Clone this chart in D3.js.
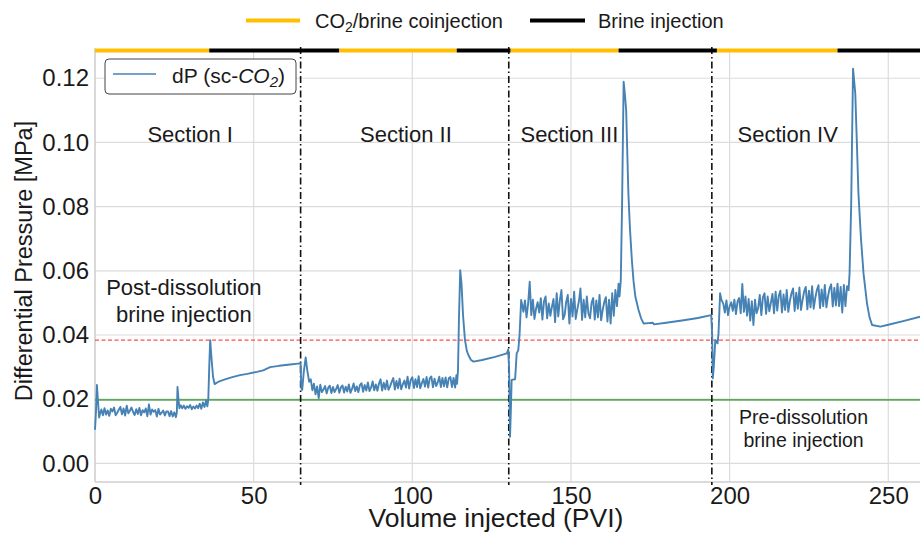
<!DOCTYPE html>
<html>
<head>
<meta charset="utf-8">
<script src="https://cdn.jsdelivr.net/npm/d3@7"></script>
<style>
  body { margin: 0; background: #fff; }
  svg text { font-family: "Liberation Sans", Arial, Helvetica, sans-serif; fill: #1a1a1a; }
</style>
</head>
<body>
<svg id="chart" width="922" height="533"></svg>
<script>
// ---- data ----
var xTicks = [0, 50, 100, 150, 200, 250];
var yTicks = [0, 0.02, 0.04, 0.06, 0.08, 0.10, 0.12];

var sectionBounds = [64.8, 130.4, 194.4];
var sectionNames = ["Section I", "Section II", "Section III", "Section IV"];
var sectionCentres = [30, 98, 149.5, 218.3];

// injection schedule bar along the top
var phaseStart = [0, 36, 77, 114, 131, 165, 196, 234];
var phaseEnd   = [36, 77, 114, 131, 165, 196, 234, 260];
var phaseType  = ["co2", "brine", "co2", "brine", "co2", "brine", "co2", "brine"];

var preDissolution = 0.0198;   // green reference
var postDissolution = 0.0384;  // red dashed reference

// dP trace [PVI, MPa]
var section1 = [
  [0, 0.0105], [0.3, 0.016], [0.6, 0.0244], [0.9, 0.020], [1.3, 0.0143], [1.6, 0.0155],
  [2, 0.0168], [2.5, 0.0150], [3, 0.0172], [3.5, 0.0152], [4, 0.0165], [4.5, 0.0148],
  [5, 0.0170], [5.5, 0.0162], [6, 0.0174], [6.5, 0.0150], [7, 0.0158], [7.5, 0.0167],
  [8, 0.0176], [8.5, 0.0153], [9, 0.0171], [9.5, 0.0149], [10, 0.0180], [10.5, 0.0156],
  [11, 0.0164], [11.5, 0.0174], [12, 0.0160], [12.5, 0.0151], [13, 0.0169], [13.5, 0.0154],
  [14, 0.0173], [14.5, 0.0150], [15, 0.0166], [15.5, 0.0159], [16, 0.0171], [16.5, 0.0147],
  [17, 0.0184], [17.5, 0.0152], [18, 0.0168], [18.5, 0.0161], [19, 0.0166], [19.5, 0.0146],
  [20, 0.0170], [20.5, 0.0152], [21, 0.0158], [21.5, 0.0165], [22, 0.0149], [22.5, 0.0162],
  [23, 0.0162], [23.5, 0.0147], [24, 0.0163], [24.5, 0.0146], [25, 0.0159], [25.5, 0.0144],
  [25.8, 0.0160], [26.0, 0.0238], [26.3, 0.0200], [26.6, 0.0172],
  [27, 0.0181], [27.5, 0.0172], [28, 0.0180], [28.5, 0.0170], [29, 0.0178], [29.5, 0.0173],
  [30, 0.0182], [30.5, 0.0169], [31, 0.0177], [31.5, 0.0171], [32, 0.0180], [32.5, 0.0172],
  [33, 0.0186], [33.5, 0.0170], [34, 0.0190], [34.5, 0.0176], [35, 0.0196], [35.4, 0.0178],
  [35.7, 0.0198], [36.0, 0.0300], [36.3, 0.0384], [36.7, 0.0330], [37.2, 0.0270], [37.7, 0.0247],
  [39, 0.0255], [40.5, 0.0260], [43, 0.0268], [45.7, 0.0275], [48, 0.0279], [51, 0.0285],
  [53, 0.0290], [55.2, 0.0300], [58, 0.0304], [61.5, 0.0308], [64, 0.0311], [64.8, 0.0312]
];
var section2 = [
  [65.0, 0.0235], [65.3, 0.0229], [65.8, 0.0285], [66.4, 0.0330], [66.9, 0.0290], [67.5, 0.0254],
  [68, 0.0262], [68.5, 0.0228], [69, 0.0248], [69.5, 0.0215], [70, 0.0240], [70.5, 0.0203],
  [71, 0.0245], [71.5, 0.0222], [72, 0.0230], [72.5, 0.0241], [73, 0.0218], [73.5, 0.0236],
  [74, 0.0242], [74.5, 0.0219], [75, 0.0238], [75.5, 0.0222], [76, 0.0232], [76.5, 0.0244],
  [77, 0.0220], [77.5, 0.0237], [78, 0.0243], [78.5, 0.0221], [79, 0.0239], [79.5, 0.0224],
  [80, 0.0246], [80.5, 0.0220], [81, 0.0232], [81.5, 0.0249], [82, 0.0225], [82.5, 0.0240],
  [83, 0.0222], [83.5, 0.0244], [84, 0.0250], [84.5, 0.0223], [85, 0.0244], [85.5, 0.0227],
  [86, 0.0252], [86.5, 0.0225], [87, 0.0236], [87.5, 0.0255], [88, 0.0228], [88.5, 0.0246],
  [89, 0.0226], [89.5, 0.0249], [90, 0.0262], [90.5, 0.0227], [91, 0.0251], [91.5, 0.0231],
  [92, 0.0258], [92.5, 0.0229], [93, 0.0240], [93.5, 0.0254], [94, 0.0266], [94.5, 0.0230],
  [95, 0.0257], [95.5, 0.0234], [96, 0.0264], [96.5, 0.0231], [97, 0.0246], [97.5, 0.0258],
  [98, 0.0236], [98.5, 0.0270], [99, 0.0233], [99.5, 0.0260], [100, 0.0268], [100.5, 0.0235],
  [101, 0.0262], [101.5, 0.0238], [102, 0.0272], [102.5, 0.0234], [103, 0.0250], [103.5, 0.0263],
  [104, 0.0239], [104.5, 0.0269], [105, 0.0236], [105.5, 0.0265], [106, 0.0271], [106.5, 0.0237],
  [107, 0.0264], [107.5, 0.0241], [108, 0.0252], [108.5, 0.0270], [109, 0.0238], [109.5, 0.0266],
  [110, 0.0240], [110.5, 0.0268], [111, 0.0237], [111.5, 0.0265], [112, 0.0269], [112.5, 0.0238],
  [113, 0.0266], [113.5, 0.0236], [113.9, 0.0275], [114.1, 0.0248], [114.4, 0.0290], [114.7, 0.0450],
  [115.1, 0.0602], [115.5, 0.0560], [116.0, 0.0460], [116.6, 0.0384], [117.2, 0.0350], [117.7, 0.0337],
  [118.5, 0.0322], [119.3, 0.0317], [122, 0.0322], [126.1, 0.0332], [129.8, 0.0343], [130.2, 0.0355]
];
var section3 = [
  [130.5, 0.0300], [130.8, 0.0083], [131.1, 0.0180], [131.3, 0.0260], [132.4, 0.0262], [132.9, 0.0343],
  [133.4, 0.0353], [133.8, 0.0400], [134.3, 0.0509], [134.7, 0.0490],
  [135, 0.0472], [135.5, 0.0508], [136, 0.0455], [136.5, 0.0498], [137, 0.0566], [137.5, 0.0462],
  [138, 0.0510], [138.5, 0.0450], [139, 0.0482], [139.5, 0.0502], [140, 0.0470], [140.5, 0.0515],
  [141, 0.0448], [141.5, 0.0505], [142, 0.0520], [142.5, 0.0452], [143, 0.0498], [143.5, 0.0460],
  [144, 0.0488], [144.5, 0.0512], [145, 0.0440], [145.5, 0.0530], [146, 0.0458], [146.5, 0.0508],
  [147, 0.0540], [147.5, 0.0449], [148, 0.0462], [148.5, 0.0503], [149, 0.0525], [149.5, 0.0436],
  [150, 0.0512], [150.5, 0.0458], [151, 0.0535], [151.5, 0.0450], [152, 0.0480], [152.5, 0.0505],
  [153, 0.0545], [153.5, 0.0447], [154, 0.0510], [154.5, 0.0455], [155, 0.0520], [155.5, 0.0468],
  [156, 0.0452], [156.5, 0.0500], [157, 0.0515], [157.5, 0.0448], [158, 0.0508], [158.5, 0.0455],
  [159, 0.0525], [159.5, 0.0446], [160, 0.0478], [160.5, 0.0503], [161, 0.0518], [161.5, 0.0442],
  [162, 0.0510], [162.5, 0.0436], [163, 0.0530], [163.5, 0.0460], [164, 0.0540], [164.5, 0.0490],
  [165.0, 0.0560], [165.3, 0.0520], [165.7, 0.0570], [166.1, 0.0800], [166.6, 0.1189], [167.0, 0.1150],
  [167.4, 0.1100], [167.8, 0.0950], [168.1, 0.0841], [168.6, 0.0730], [169.2, 0.0633], [169.7, 0.0570],
  [170.3, 0.0519], [171.3, 0.0478], [172.1, 0.0452], [172.9, 0.0436], [174.5, 0.0437], [175.8, 0.0438],
  [176.2, 0.0433], [180, 0.0438], [185, 0.0445], [190, 0.0453], [194.2, 0.0462]
];
var section4 = [
  [194.5, 0.0400], [194.7, 0.0265], [195.0, 0.0300], [195.5, 0.0384], [196.2, 0.0374], [196.5, 0.0405],
  [197.0, 0.0530], [197.4, 0.0510],
  [198, 0.0498], [198.5, 0.0470], [199, 0.0508], [199.5, 0.0462], [200, 0.0490], [200.5, 0.0502],
  [201, 0.0475], [201.5, 0.0510], [202, 0.0465], [202.5, 0.0505], [203, 0.0515], [203.5, 0.0468],
  [204, 0.0559], [204.5, 0.0472], [205, 0.0520], [205.5, 0.0460], [206, 0.0512], [206.5, 0.0445],
  [207, 0.0505], [207.5, 0.0431], [208, 0.0510], [208.5, 0.0468], [209, 0.0484], [209.5, 0.0525],
  [210, 0.0462], [210.5, 0.0518], [211, 0.0530], [211.5, 0.0466], [212, 0.0520], [212.5, 0.0474],
  [213, 0.0500], [213.5, 0.0528], [214, 0.0468], [214.5, 0.0535], [215, 0.0476], [215.5, 0.0522],
  [216, 0.0538], [216.5, 0.0470], [217, 0.0526], [217.5, 0.0478], [218, 0.0540], [218.5, 0.0472],
  [219, 0.0506], [219.5, 0.0530], [220, 0.0545], [220.5, 0.0475], [221, 0.0532], [221.5, 0.0482],
  [222, 0.0548], [222.5, 0.0478], [223, 0.0510], [223.5, 0.0536], [224, 0.0550], [224.5, 0.0480],
  [225, 0.0538], [225.5, 0.0486], [226, 0.0552], [226.5, 0.0482], [227, 0.0516], [227.5, 0.0540],
  [228, 0.0555], [228.5, 0.0484], [229, 0.0542], [229.5, 0.0490], [230, 0.0556], [230.5, 0.0486],
  [231, 0.0520], [231.5, 0.0545], [232, 0.0558], [232.5, 0.0489], [233, 0.0547], [233.5, 0.0492],
  [234, 0.0560], [234.5, 0.0490], [235, 0.0550], [235.5, 0.0470], [236, 0.0556], [236.5, 0.0490],
  [237, 0.0552], [237.5, 0.0540], [237.8, 0.0592], [238.3, 0.0800], [238.9, 0.1230], [239.6, 0.1153],
  [240.1, 0.1000], [240.6, 0.0841], [241.4, 0.0700], [242.2, 0.0592], [243.3, 0.0498], [244.1, 0.0455],
  [244.9, 0.0431], [247.5, 0.0426], [250, 0.0432], [255, 0.0444], [260, 0.0457]
];
var dpTrace = section1.concat(section2, section3, section4);

// ---- drawing ----
var svg = d3.select("#chart");
var plotLeft = 95, plotRight = 920, plotTop = 50, plotBottom = 482;

var x = d3.scaleLinear().domain([0, 260]).range([plotLeft, plotRight]);
var y = d3.scaleLinear().domain([-0.0058, 0.1288]).range([plotBottom, plotTop]);

// grid
svg.append("g").selectAll("line")
    .data(yTicks)
  .enter().append("line")
    .attr("x1", plotLeft).attr("x2", plotRight)
    .attr("y1", function(d) { return y(d); })
    .attr("y2", function(d) { return y(d); })
    .attr("stroke", "#dcdcdc").attr("stroke-width", 1.2);

svg.append("g").selectAll("line")
    .data(xTicks)
  .enter().append("line")
    .attr("x1", function(d) { return x(d); })
    .attr("x2", function(d) { return x(d); })
    .attr("y1", plotTop).attr("y2", plotBottom)
    .attr("stroke", "#dcdcdc").attr("stroke-width", 1.2);

// spines
svg.append("line").attr("x1", plotLeft).attr("x2", plotLeft).attr("y1", plotTop - 2).attr("y2", plotBottom)
    .attr("stroke", "#cfcfcf").attr("stroke-width", 1.3);
svg.append("line").attr("x1", plotLeft).attr("x2", plotRight).attr("y1", plotBottom).attr("y2", plotBottom)
    .attr("stroke", "#cfcfcf").attr("stroke-width", 1.3);

// axes (labels only, no tick marks)
var xAxis = svg.append("g")
    .attr("transform", "translate(0," + plotBottom + ")")
    .call(d3.axisBottom(x).tickValues(xTicks).tickSize(0).tickPadding(5).tickFormat(d3.format("d")));
var yAxis = svg.append("g")
    .attr("transform", "translate(" + plotLeft + ",0)")
    .call(d3.axisLeft(y).tickValues(yTicks).tickSize(0).tickPadding(6).tickFormat(d3.format(".2f")));
[xAxis, yAxis].forEach(function(a) {
  a.select(".domain").remove();
  a.selectAll("text").attr("font-size", 24).attr("fill", "#262626")
    .attr("font-family", "'Liberation Sans', Arial, sans-serif");
});

// reference levels
svg.append("line")
    .attr("x1", plotLeft).attr("x2", plotRight)
    .attr("y1", y(preDissolution)).attr("y2", y(preDissolution))
    .attr("stroke", "#5aaa5a").attr("stroke-width", 1.6);
svg.append("line")
    .attr("x1", plotLeft).attr("x2", plotRight)
    .attr("y1", y(postDissolution)).attr("y2", y(postDissolution))
    .attr("stroke", "#ff4d4d").attr("stroke-width", 1.1)
    .attr("stroke-dasharray", "4,2.5");

// section dividers
svg.append("g").selectAll("line")
    .data(sectionBounds)
  .enter().append("line")
    .attr("x1", function(d) { return x(d); })
    .attr("x2", function(d) { return x(d); })
    .attr("y1", plotTop - 3).attr("y2", plotBottom + 3)
    .attr("stroke", "#111").attr("stroke-width", 1.6)
    .attr("stroke-dasharray", "7,3,1.5,3");

// dP line
var line = d3.line()
    .x(function(d) { return x(d[0]); })
    .y(function(d) { return y(d[1]); });
svg.append("path")
    .datum(dpTrace)
    .attr("fill", "none")
    .attr("stroke", "#4682b4")
    .attr("stroke-width", 1.9)
    .attr("stroke-linejoin", "round")
    .attr("d", line);

// injection schedule bar
var phaseColor = { co2: "#ffbf00", brine: "#000" };
svg.append("g").selectAll("line")
    .data(d3.range(phaseStart.length))
  .enter().append("line")
    .attr("x1", function(i) { return x(phaseStart[i]); })
    .attr("x2", function(i) { return x(phaseEnd[i]); })
    .attr("y1", plotTop + 0.5).attr("y2", plotTop + 0.5)
    .attr("stroke", function(i) { return phaseColor[phaseType[i]]; })
    .attr("stroke-width", 4);

// section titles
svg.append("g").selectAll("text")
    .data(sectionNames)
  .enter().append("text")
    .attr("x", function(d, i) { return x(sectionCentres[i]); })
    .attr("y", y(0.1))
    .attr("text-anchor", "middle")
    .attr("font-size", 22)
    .text(function(d) { return d; });

// annotations
var post = svg.append("text").attr("text-anchor", "middle").attr("font-size", 22);
post.append("tspan").attr("x", x(28)).attr("y", y(0.0525)).text("Post-dissolution");
post.append("tspan").attr("x", x(28)).attr("y", y(0.0441)).text("brine injection");

var pre = svg.append("text").attr("text-anchor", "middle").attr("font-size", 19.5);
pre.append("tspan").attr("x", x(223.3)).attr("y", y(0.0122)).text("Pre-dissolution");
pre.append("tspan").attr("x", x(223.3)).attr("y", y(0.0051)).text("brine injection");

// axis titles
svg.append("text")
    .attr("x", 496).attr("y", 527)
    .attr("text-anchor", "middle")
    .attr("font-size", 26.5)
    .text("Volume injected (PVI)");
svg.append("text")
    .attr("transform", "translate(32," + 261 + ") rotate(-90)")
    .attr("text-anchor", "middle")
    .attr("font-size", 23.5)
    .text("Differential Pressure [MPa]");

// inner legend
svg.append("rect")
    .attr("x", 105).attr("y", 59).attr("width", 191).attr("height", 35)
    .attr("rx", 4).attr("fill", "#fff").attr("stroke", "#444").attr("stroke-width", 1);
svg.append("line")
    .attr("x1", 113).attr("x2", 156).attr("y1", 74).attr("y2", 74)
    .attr("stroke", "#4682b4").attr("stroke-width", 1.6);
var lg = svg.append("text").attr("x", 172).attr("y", 83).attr("font-size", 21);
lg.append("tspan").text("dP (sc-");
lg.append("tspan").attr("font-style", "italic").text("CO");
lg.append("tspan").attr("font-style", "italic").attr("font-size", 15).attr("dy", 4).text("2");
lg.append("tspan").attr("dy", -4).text(")");

// top legend
svg.append("line").attr("x1", 246).attr("x2", 300).attr("y1", 20.5).attr("y2", 20.5)
    .attr("stroke", phaseColor.co2).attr("stroke-width", 4);
var t1 = svg.append("text").attr("x", 315).attr("y", 27.5).attr("font-size", 20);
t1.append("tspan").text("CO");
t1.append("tspan").attr("font-size", 14).attr("dy", 4).text("2");
t1.append("tspan").attr("dy", -4).text("/brine coinjection");

svg.append("line").attr("x1", 530).attr("x2", 585).attr("y1", 20.5).attr("y2", 20.5)
    .attr("stroke", phaseColor.brine).attr("stroke-width", 4);
svg.append("text").attr("x", 598).attr("y", 27.5).attr("font-size", 20)
    .text("Brine injection");
</script>
</body>
</html>
